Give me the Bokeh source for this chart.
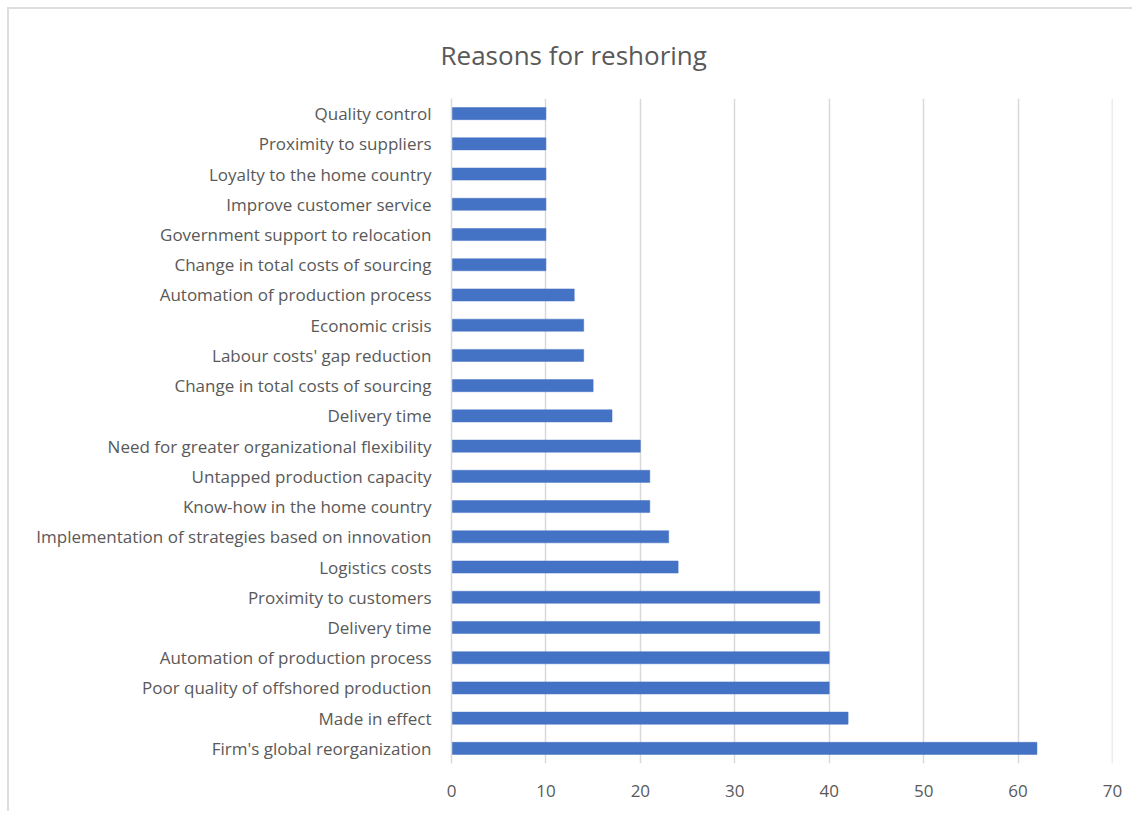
from bokeh.plotting import figure
from bokeh.models import Range1d, FixedTicker, Title, ColumnDataSource, Span
from bokeh.embed import file_html
from bokeh.resources import INLINE

# Data, listed top to bottom as in the chart
title_text = "Reasons for reshoring"
reasons = [
    "Quality control",
    "Proximity to suppliers",
    "Loyalty to the home country",
    "Improve customer service",
    "Government support to relocation",
    "Change in total costs of sourcing",
    "Automation of production process",
    "Economic crisis",
    "Labour costs' gap reduction",
    "Change in total costs of sourcing",
    "Delivery time",
    "Need for greater organizational flexibility",
    "Untapped production capacity",
    "Know-how in the home country",
    "Implementation of strategies based on innovation",
    "Logistics costs",
    "Proximity to customers",
    "Delivery time",
    "Automation of production process",
    "Poor quality of offshored production",
    "Made in effect",
    "Firm's global reorganization",
]
counts = [10, 10, 10, 10, 10, 10, 13, 14, 14, 15, 17, 20, 21, 21, 23, 24, 39, 39, 40, 40, 42, 62]
x_ticks = [0, 10, 20, 30, 40, 50, 60, 70]

n = len(reasons)
ypos = [n - 1 - i for i in range(n)]
src = ColumnDataSource(dict(y=ypos, v=counts, name=reasons))

TEXT = "#595959"
FONT = "Open Sans"
GRID = "#d9d9d9"

p = figure(width=1125, height=804, output_backend="svg", toolbar_location=None,
           x_range=Range1d(0, 70), y_range=Range1d(-0.5, n - 0.5),
           min_border_left=442, min_border_right=22, min_border_top=89, min_border_bottom=50)
p.styles = {"margin-left": "7px", "margin-top": "7px",
            "border-top": "2px solid #dedede", "border-left": "2px solid #dedede"}

p.hbar(y="y", right="v", left=0, height=0.4, source=src,
       fill_color="#4472C4", line_color="#4472C4", line_width=0.5)

title = Title(text=title_text, align="left", offset=-11,
              text_font=FONT, text_font_size="26px", text_font_style="normal",
              text_color=TEXT, standoff=48, vertical_align="top")
p.add_layout(title, "above")

p.outline_line_color = None
p.background_fill_color = "white"
p.border_fill_color = "white"

p.xaxis.ticker = FixedTicker(ticks=x_ticks)
p.xaxis.axis_line_color = None
p.xaxis.major_tick_line_color = None
p.xaxis.minor_tick_line_color = None
p.xaxis.major_label_text_font = FONT
p.xaxis.major_label_text_font_size = "17px"
p.xaxis.major_label_text_color = TEXT
p.xaxis.major_label_standoff = 15

p.yaxis.ticker = FixedTicker(ticks=ypos)
p.yaxis.major_label_overrides = {y: r for y, r in zip(ypos, reasons)}
p.yaxis.axis_line_color = GRID
p.yaxis.axis_line_width = 1.5
p.yaxis.major_tick_line_color = None
p.yaxis.minor_tick_line_color = None
p.yaxis.major_label_text_font = FONT
p.yaxis.major_label_text_font_size = "17px"
p.yaxis.major_label_text_color = TEXT
p.yaxis.major_label_standoff = 14

p.xgrid.grid_line_color = GRID
p.xgrid.grid_line_width = 1.5
p.ygrid.grid_line_color = None
p.add_layout(Span(location=x_ticks[-1], dimension="height", line_color=GRID, line_width=1.5))

open("out.html", "w").write(file_html(p, INLINE))
